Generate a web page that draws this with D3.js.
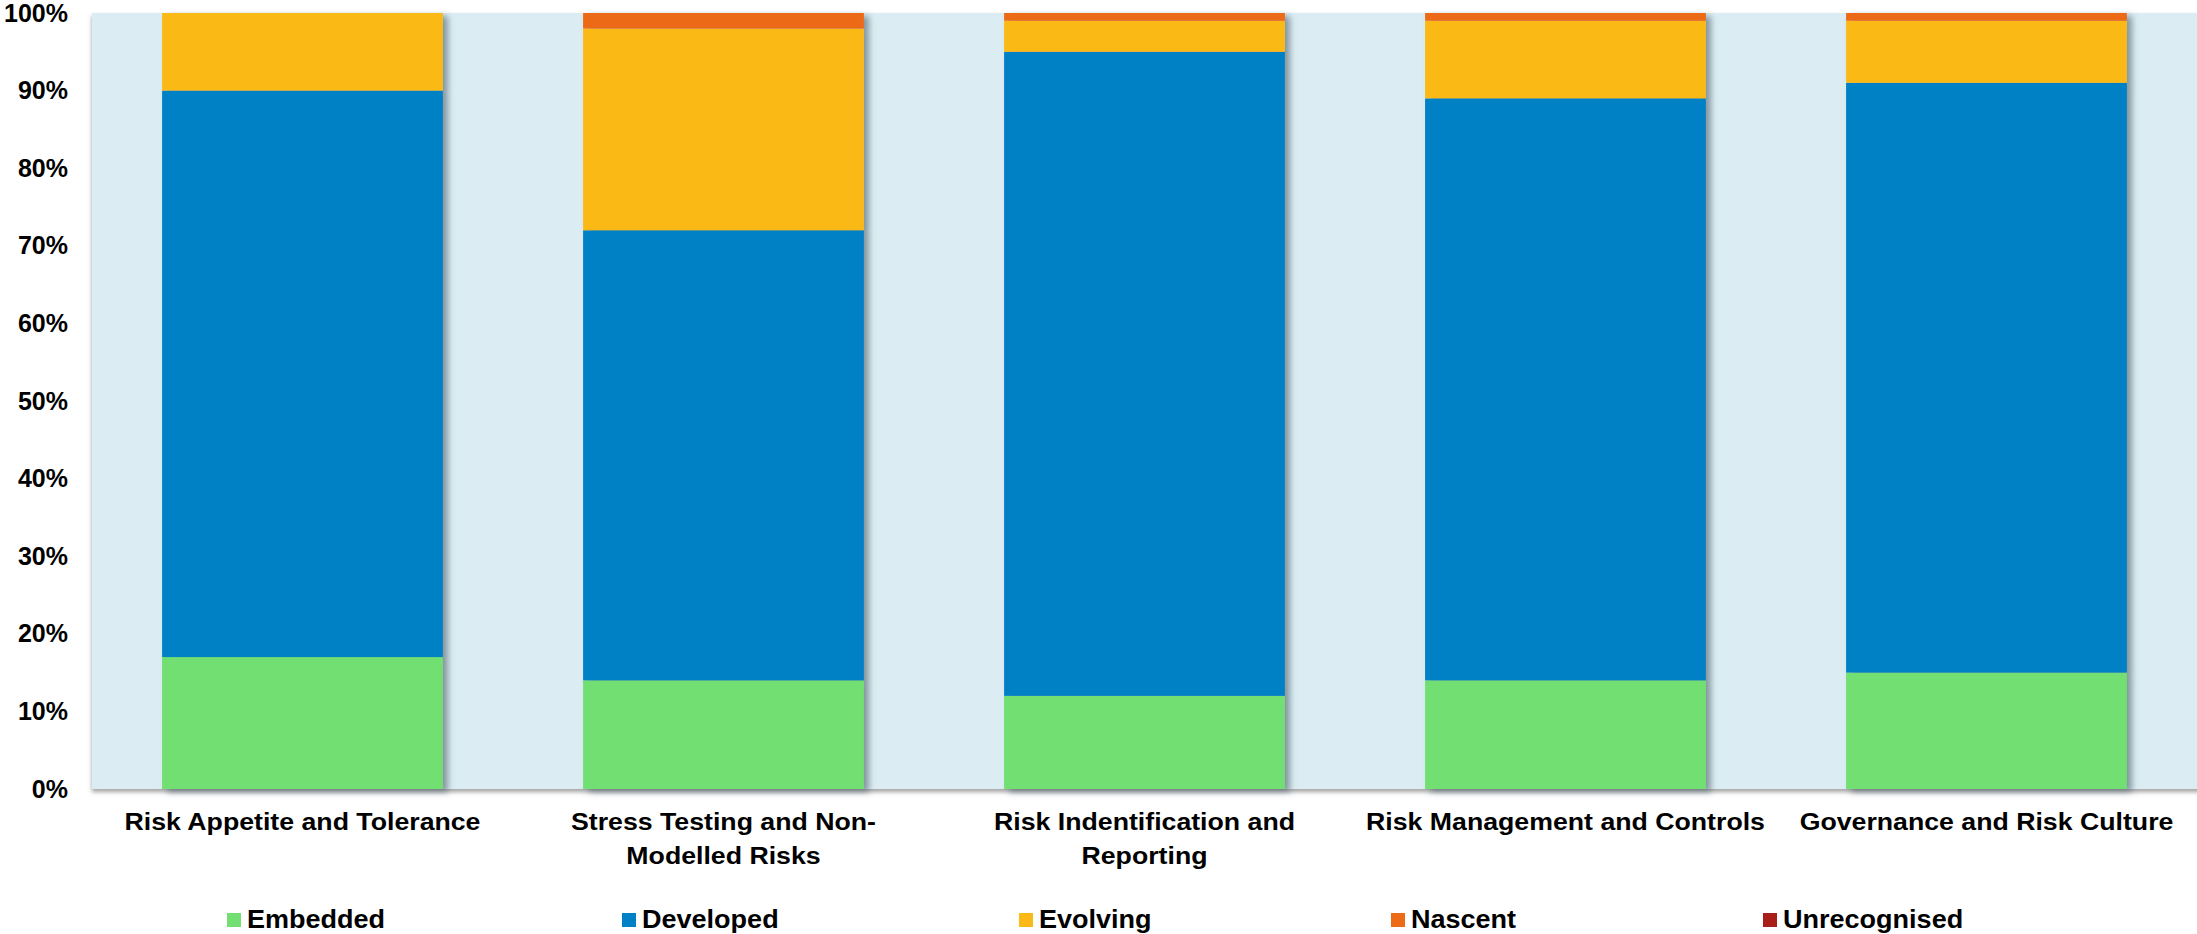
<!DOCTYPE html>
<html>
<head>
<meta charset="utf-8">
<script src="https://cdn.jsdelivr.net/npm/d3@7"></script>
<style>
  html, body { margin: 0; padding: 0; background: #ffffff; }
  svg { display: block; }
  text { font-family: "Liberation Sans", Arial, sans-serif; font-weight: bold; fill: #000; }
</style>
</head>
<body>
<svg id="chart" width="2197" height="934"></svg>
<script>
// Risk maturity assessment by area (share of responses, %)
const categories = [
  ["Risk Appetite and Tolerance"],
  ["Stress Testing and Non-", "Modelled Risks"],
  ["Risk Indentification and", "Reporting"],
  ["Risk Management and Controls"],
  ["Governance and Risk Culture"]
];
const seriesNames = ["Embedded", "Developed", "Evolving", "Nascent", "Unrecognised"];
const embedded     = [17, 14, 12, 14, 15];
const developed    = [73, 58, 83, 75, 76];
const evolving     = [10, 26,  4, 10,  8];
const nascent      = [ 0,  2,  1,  1,  1];
const unrecognised = [ 0,  0,  0,  0,  0];
const yTicks = [0, 10, 20, 30, 40, 50, 60, 70, 80, 90, 100];
const colors = ["#71df71", "#0081c6", "#fbb917", "#ec6b17", "#a81e18"];

const seriesValues = [embedded, developed, evolving, nascent, unrecognised];
const rows = categories.map((c, i) => {
  const r = { key: i };
  seriesNames.forEach((s, j) => { r[s] = seriesValues[j][i]; });
  return r;
});

const svg = d3.select("#chart");
const plot = { left: 92, right: 2197, top: 13, bottom: 789 };

const x = d3.scaleBand()
  .domain(d3.range(categories.length))
  .range([plot.left, plot.right])
  .paddingInner(0.333)
  .paddingOuter(0.1665);

const y = d3.scaleLinear().domain([0, 100]).range([plot.bottom, plot.top]);

const defs = svg.append("defs");
const sh = defs.append("filter").attr("id", "barShadow")
  .attr("x", "-10%").attr("y", "-10%").attr("width", "130%").attr("height", "130%");
sh.append("feDropShadow").attr("dx", 5).attr("dy", 3).attr("stdDeviation", 3)
  .attr("flood-color", "#4a5a66").attr("flood-opacity", 0.6);
const psh = defs.append("filter").attr("id", "plotShadow")
  .attr("x", "-5%").attr("y", "-5%").attr("width", "110%").attr("height", "115%");
psh.append("feDropShadow").attr("dx", 0).attr("dy", 3).attr("stdDeviation", 2)
  .attr("flood-color", "#555").attr("flood-opacity", 0.55);

// plot background
svg.append("rect")
  .attr("x", plot.left).attr("y", plot.top)
  .attr("width", plot.right - plot.left + 10).attr("height", plot.bottom - plot.top)
  .attr("fill", "#dbedf3")
  .attr("filter", "url(#plotShadow)");

// stacked bars
const stack = d3.stack().keys(seriesNames)(rows);
const barGroups = svg.append("g").selectAll("g.bar")
  .data(rows).join("g").attr("class", "bar").attr("filter", "url(#barShadow)");

barGroups.each(function(row, i) {
  const g = d3.select(this);
  stack.forEach((layer, j) => {
    const d = layer[i];
    if (d[1] - d[0] <= 0) return;
    g.append("rect")
      .attr("x", x(i))
      .attr("width", x.bandwidth())
      .attr("y", y(d[1]))
      .attr("height", y(d[0]) - y(d[1]))
      .attr("fill", colors[j]);
  });
});

// y axis
const yAxis = d3.axisLeft(y).tickValues(yTicks).tickFormat(d => d + "%").tickSize(0).tickPadding(0);
const yg = svg.append("g").attr("transform", "translate(68,0)").call(yAxis);
yg.select(".domain").remove();
yg.selectAll("text")
  .attr("font-family", "Liberation Sans, Arial, sans-serif")
  .attr("font-weight", "bold")
  .attr("font-size", 25)
  .attr("fill", "#000");

// x category labels (slightly widened type)
const xl = svg.append("g");
categories.forEach((lines, i) => {
  const cx = x(i) + x.bandwidth() / 2;
  const t = xl.append("text")
    .attr("transform", `translate(${cx},830) scale(1.09,1)`)
    .attr("text-anchor", "middle")
    .attr("font-size", 24.5);
  lines.forEach((ln, k) => {
    t.append("tspan").attr("x", 0).attr("dy", k === 0 ? 0 : 34).text(ln);
  });
});

// legend
const legendX = [227, 622, 1019, 1391, 1763];
const lg = svg.append("g");
seriesNames.forEach((s, j) => {
  lg.append("rect").attr("x", legendX[j]).attr("y", 913).attr("width", 14).attr("height", 14).attr("fill", colors[j]);
  lg.append("text")
    .attr("transform", `translate(${legendX[j] + 20},928) scale(1.06,1)`)
    .attr("font-size", 25.5).text(s);
});
</script>
</body>
</html>
